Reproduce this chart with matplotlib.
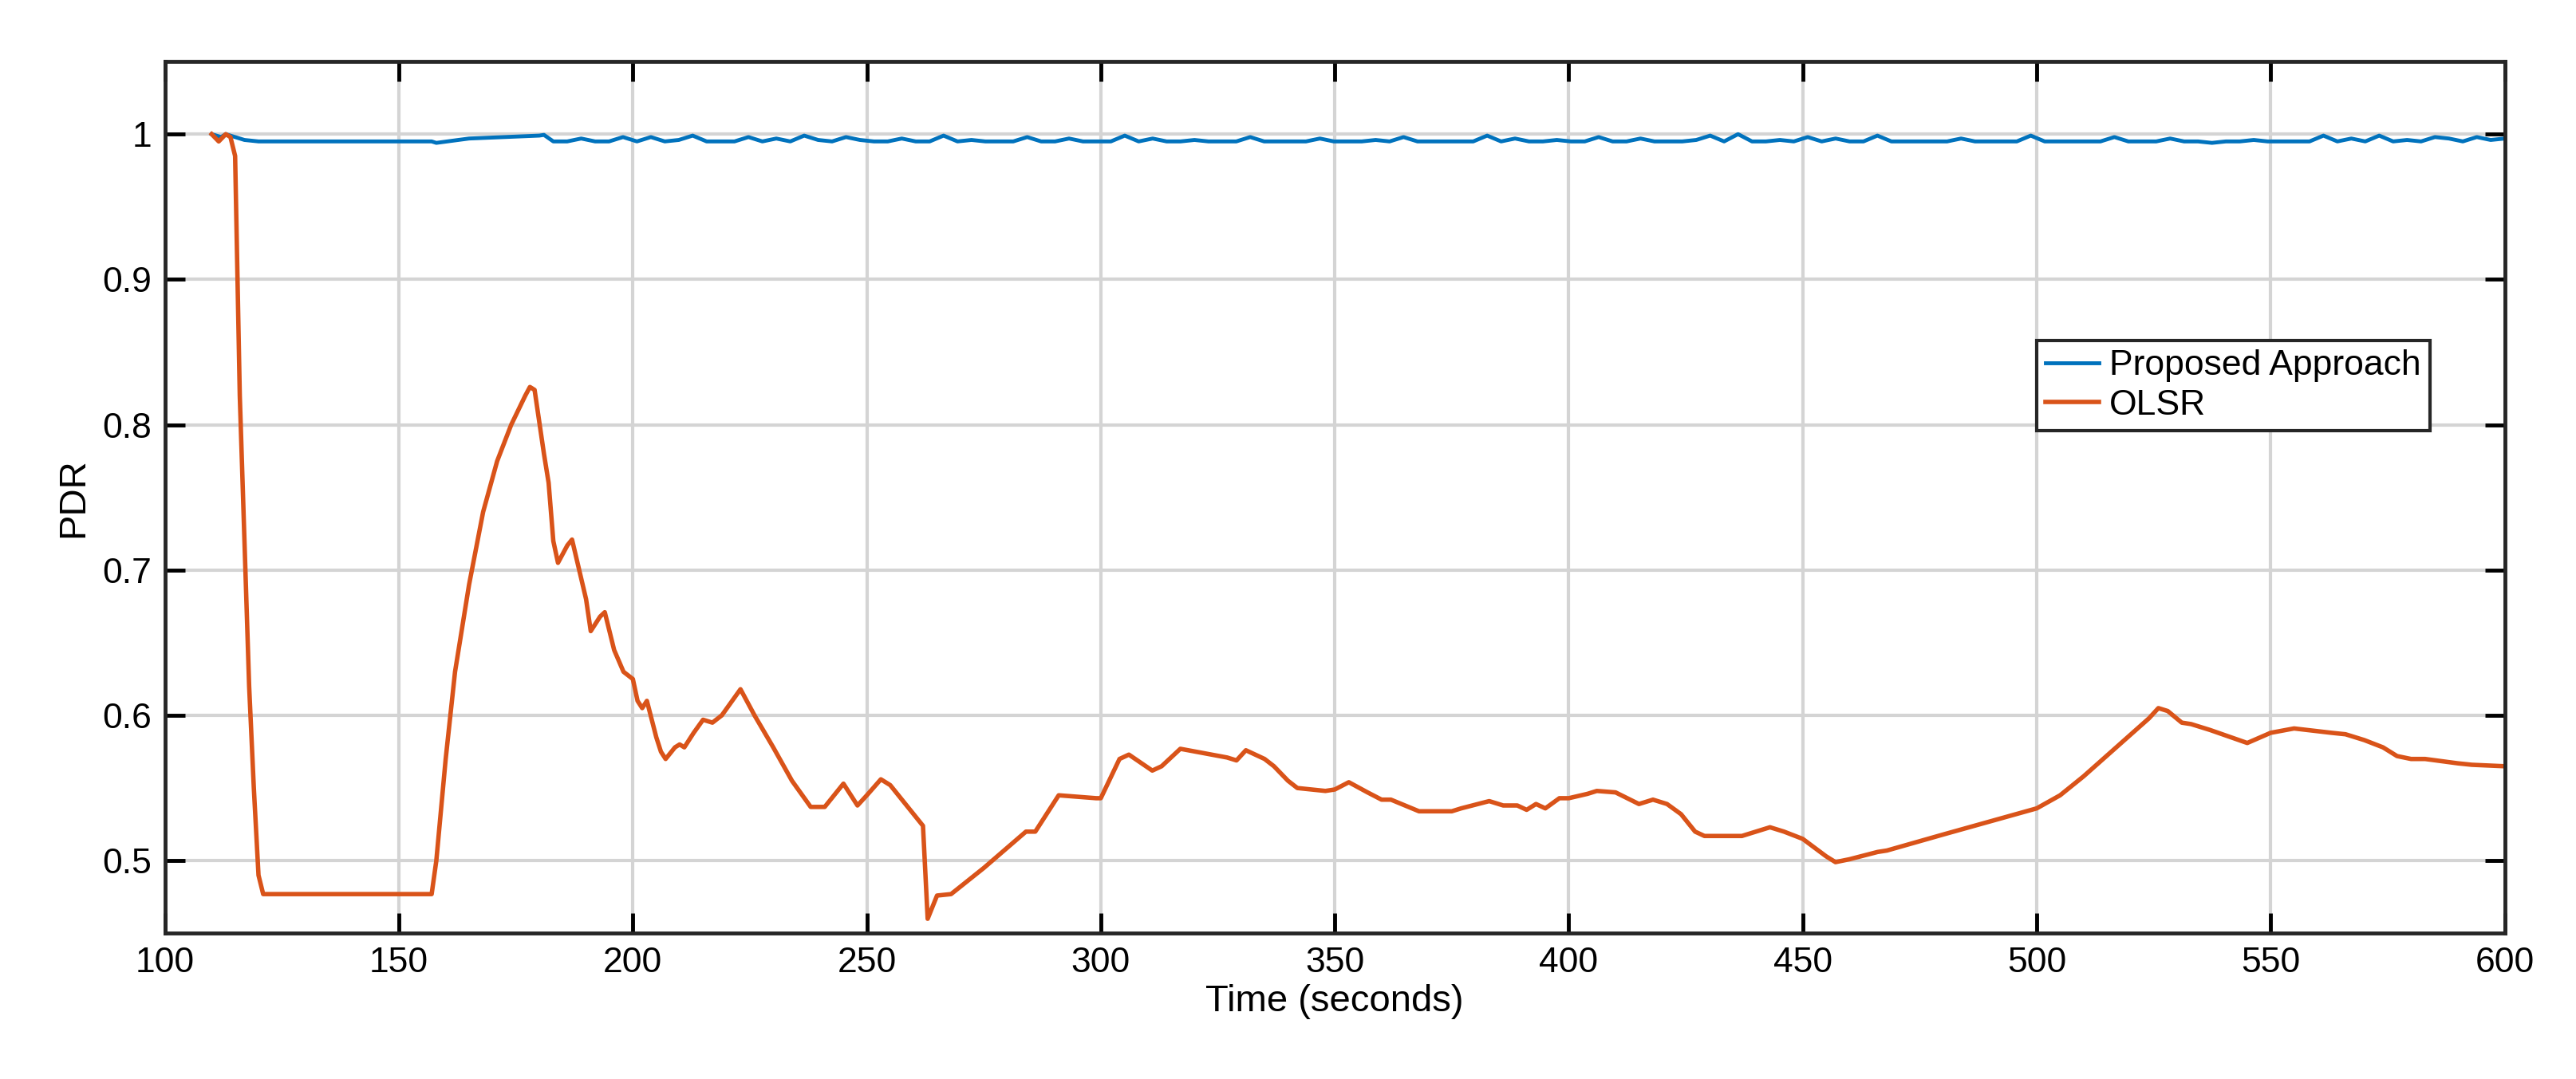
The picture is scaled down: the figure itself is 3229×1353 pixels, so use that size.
import matplotlib
matplotlib.use("Agg")
import matplotlib.pyplot as plt
import numpy as np

olsr_t = [110,111.5,113,114,115,116,118,119,120,121,157,158,160,162,165,168,171,174,177,178,179,181,182,183,184,186,187,190,191,193,194,196,198,200,201,202,203,205,206,207,209,210,211,213,215,217,219,223,226,230,234,238,241,245,248,250,253,255,258,262,263,265,268,275,284,286,288,291,299,300,304,306,311,313,317,327,329,331,335,337,340,342,348,350,353,357,360,362,368,375,377,383,386,389,391,393,395,398,400,404,406,410,415,418,421,424,427,429,437,443,446,450,455,457,460,466,468,480,500,505,510,517,524,526,528,531,533,537,545,550,555,563,566,570,574,577,580,583,590,593,600]
olsr_v = [1.0,0.995,1.0,0.998,0.985,0.82,0.62,0.55,0.49,0.477,0.477,0.50,0.57,0.63,0.69,0.74,0.775,0.80,0.82,0.826,0.824,0.78,0.76,0.72,0.705,0.717,0.721,0.68,0.658,0.668,0.671,0.645,0.63,0.625,0.61,0.605,0.61,0.585,0.575,0.57,0.578,0.58,0.578,0.588,0.597,0.595,0.60,0.618,0.60,0.578,0.555,0.537,0.537,0.553,0.538,0.545,0.556,0.552,0.54,0.524,0.46,0.476,0.477,0.495,0.52,0.52,0.53,0.545,0.543,0.543,0.57,0.573,0.562,0.565,0.577,0.571,0.569,0.576,0.570,0.565,0.555,0.55,0.548,0.549,0.554,0.547,0.542,0.542,0.534,0.534,0.536,0.541,0.538,0.538,0.535,0.539,0.536,0.543,0.543,0.546,0.548,0.547,0.539,0.542,0.539,0.532,0.52,0.517,0.517,0.523,0.52,0.515,0.503,0.499,0.501,0.506,0.507,0.518,0.536,0.545,0.558,0.578,0.598,0.605,0.603,0.595,0.594,0.59,0.581,0.588,0.591,0.588,0.587,0.583,0.578,0.572,0.570,0.570,0.567,0.566,0.565]

prop_head_t = [110,112,113,115,117,120,157,158,165,180,181]
prop_head_v = [1.0,0.998,1.0,0.998,0.996,0.995,0.995,0.994,0.997,0.999,0.9995]
prop_tail_v = [0.995,0.995,0.997,0.995,0.995,0.998,0.995,0.998,0.995,0.996,0.999,0.995,0.995,0.995,0.998,0.995,0.997,0.995,0.999,0.996,0.995,0.998,0.996,0.995,0.995,0.997,0.995,0.995,0.999,0.995,0.996,0.995,0.995,0.995,0.998,0.995,0.995,0.997,0.995,0.995,0.995,0.999,0.995,0.997,0.995,0.995,0.996,0.995,0.995,0.995,0.998,0.995,0.995,0.995,0.995,0.997,0.995,0.995,0.995,0.996,0.995,0.998,0.995,0.995,0.995,0.995,0.995,0.999,0.995,0.997,0.995,0.995,0.996,0.995,0.995,0.998,0.995,0.995,0.997,0.995,0.995,0.995,0.996,0.999,0.995,1.0,0.995,0.995,0.996,0.995,0.998,0.995,0.997,0.995,0.995,0.999,0.995,0.995,0.995,0.995,0.995,0.997,0.995,0.995,0.995,0.995,0.999,0.995,0.995,0.995,0.995,0.995,0.998,0.995,0.995,0.995,0.997,0.995,0.995,0.994,0.995,0.995,0.996,0.995,0.995,0.995,0.995,0.999,0.995,0.997,0.995,0.999,0.995,0.996,0.995,0.998,0.997,0.995,0.998,0.996,0.997]
prop_tail_t = list(np.linspace(183, 600, len(prop_tail_v)))
prop_t = prop_head_t + prop_tail_t
prop_v = prop_head_v + prop_tail_v

plt.rcParams['font.family'] = ['Liberation Sans', 'DejaVu Sans']
fig = plt.figure(figsize=(32.3, 13.53), dpi=100)
ax = fig.add_axes([0.064, 0.135, 0.908, 0.808])
ax.plot(prop_t, prop_v, color='#0072BD', lw=3.5, label='Proposed Approach')
ax.plot(olsr_t, olsr_v, color='#D95319', lw=4, label='OLSR')
ax.set_xlim(100, 600)
ax.set_ylim(0.45, 1.05)
ax.set_xticks(range(100, 601, 50))
ax.set_yticks([0.5,0.6,0.7,0.8,0.9,1.0])
ax.set_yticklabels(['0.5','0.6','0.7','0.8','0.9','1'])
ax.grid(True, color='#d4d4d4', lw=3)
ax.tick_params(direction='in', length=18, width=3.5, labelsize=32, top=True, right=True, pad=12)
for s in ax.spines.values():
    s.set_linewidth(3.5); s.set_color('#262626')
ax.set_xlabel('Time (seconds)', fontsize=34, labelpad=4)
ax.set_ylabel('PDR', fontsize=34, labelpad=10)
leg = ax.legend(loc='upper left', bbox_to_anchor=(0.8, 0.68), fontsize=32, fancybox=False,
                edgecolor='#262626', framealpha=1, borderpad=0.25, handlelength=1.5,
                labelspacing=0.2, handletextpad=0.3, borderaxespad=0)
leg.get_frame().set_linewidth(3)
fig.savefig('out.png', dpi=100)
